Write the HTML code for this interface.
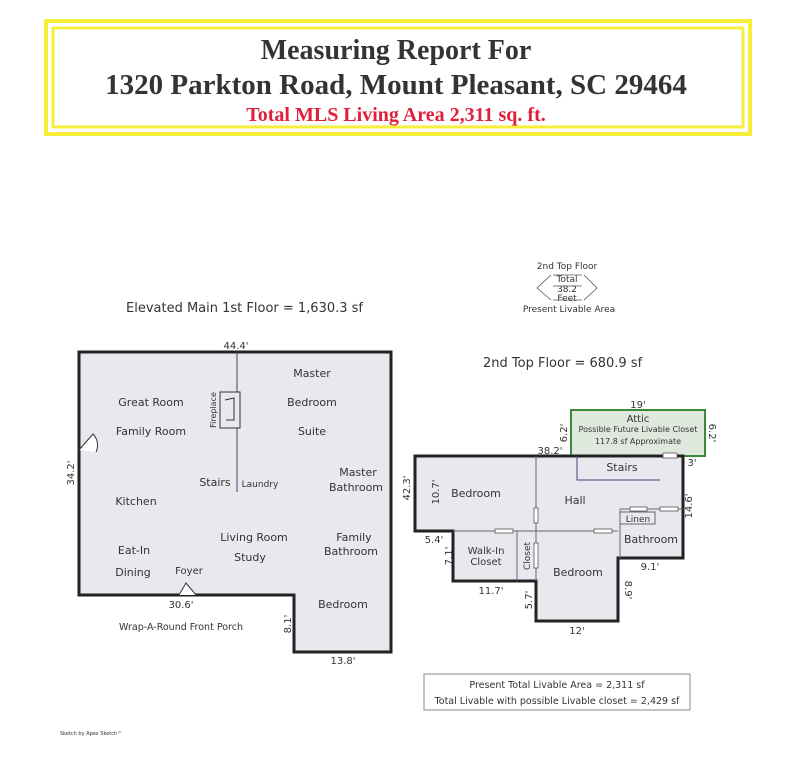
<!DOCTYPE html>
<html><head><meta charset="utf-8"><style>
html,body{margin:0;padding:0;background:#fff;}
svg{display:block}
</style></head><body>
<svg width="785" height="758" viewBox="0 0 785 758" xmlns="http://www.w3.org/2000/svg" font-family="'DejaVu Sans','Liberation Sans',sans-serif">
<!-- header -->
<rect x="46" y="21" width="704" height="113" fill="none" stroke="#f5ef3a" stroke-width="4"/>
<rect x="53" y="28" width="690" height="99" fill="none" stroke="#f5ef3a" stroke-width="3"/>
<g font-family="'Liberation Serif',serif" font-weight="bold" text-anchor="middle">
<text x="396" y="59" font-size="28" fill="#333">Measuring Report For</text>
<text x="396" y="94" font-size="29" fill="#333">1320 Parkton Road, Mount Pleasant, SC 29464</text>
<text x="396" y="121" font-size="20" fill="#e0203a">Total MLS Living Area 2,311 sq. ft.</text>
</g>

<!-- legend -->
<g font-size="9" fill="#333" text-anchor="middle">
<text x="567" y="269">2nd Top Floor</text>
<text x="567" y="282">Total</text>
<text x="567" y="292">38.2</text>
<text x="567" y="301">Feet</text>
<text x="569" y="312">Present Livable Area</text>
</g>
<path d="M551 275 L537 288 L551 300 M584 275 L597 288 L584 300 M553 275 H582 M553 300 H582 M553 286 H582" fill="none" stroke="#555" stroke-width="0.8"/>

<text x="126" y="312" font-size="13" fill="#333">Elevated Main 1st Floor = 1,630.3 sf</text>
<text x="483" y="367" font-size="13" fill="#333">2nd Top Floor = 680.9 sf</text>

<!-- main floor -->
<path d="M79 352 H391 V652 H294 V595 H79 Z" fill="#e8e8ee" stroke="#222" stroke-width="3"/>
<line x1="237" y1="352" x2="237" y2="492" stroke="#446" stroke-width="1"/>
<rect x="220" y="392" width="20" height="36" fill="#e8e8ee" stroke="#333" stroke-width="1"/>
<path d="M225 400 L234 398 L234 420 L226 420" fill="none" stroke="#333" stroke-width="1"/>
<path d="M79 450 L93 434 A16 16 0 0 1 96 452" fill="#fff" stroke="#333" stroke-width="1"/>
<path d="M179 595 L186 583 L196 595" fill="#fff" stroke="#333" stroke-width="1"/>
<g font-size="11" fill="#333" text-anchor="middle">
<text x="151" y="406">Great Room</text>
<text x="151" y="435">Family Room</text>
<text x="312" y="377">Master</text>
<text x="312" y="406">Bedroom</text>
<text x="312" y="435">Suite</text>
<text x="215" y="486">Stairs</text>
<text x="260" y="487" font-size="9">Laundry</text>
<text x="358" y="476">Master</text>
<text x="356" y="491">Bathroom</text>
<text x="136" y="505">Kitchen</text>
<text x="254" y="541">Living Room</text>
<text x="250" y="561">Study</text>
<text x="354" y="541">Family</text>
<text x="351" y="555">Bathroom</text>
<text x="134" y="554">Eat-In</text>
<text x="133" y="576">Dining</text>
<text x="189" y="574" font-size="10">Foyer</text>
<text x="343" y="608">Bedroom</text>
<text x="181" y="630" font-size="9.5">Wrap-A-Round Front Porch</text>
<text x="236" y="349" font-size="10">44.4'</text>
<text x="181" y="608" font-size="10">30.6'</text>
<text x="343" y="664" font-size="10">13.8'</text>
<text x="0" y="0" font-size="10" transform="translate(74 473) rotate(-90)">34.2'</text>
<text x="0" y="0" font-size="10" transform="translate(291 624) rotate(-90)">8.1'</text>
<text x="0" y="0" font-size="8" transform="translate(216 410) rotate(-90)">Fireplace</text>
</g>

<!-- attic -->
<rect x="571" y="410" width="134" height="46" fill="#dfe8dc" stroke="#3a8a3a" stroke-width="2"/>
<g font-size="10" fill="#333" text-anchor="middle">
<text x="638" y="422">Attic</text>
<text x="638" y="432" font-size="8">Possible Future Livable Closet</text>
<text x="638" y="444" font-size="8">117.8 sf Approximate</text>
<text x="638" y="408" font-size="10">19'</text>
</g>

<!-- second floor -->
<path d="M415 456 H683 V558 H618 V621 H536 V581 H453 V531 H415 Z" fill="#e8e8ee" stroke="#222" stroke-width="3"/>
<g stroke="#667" stroke-width="1" fill="none">
<line x1="536" y1="456" x2="536" y2="581"/>
<line x1="453" y1="531" x2="618" y2="531"/>
<line x1="517" y1="531" x2="517" y2="581"/>
<line x1="620" y1="509" x2="683" y2="509"/>
<line x1="620" y1="509" x2="620" y2="558"/>
<rect x="620" y="512" width="35" height="12"/>
<path d="M577 456 V480 H660" stroke="#447"/>
</g>
<g fill="#fff" stroke="#555" stroke-width="0.8">
<rect x="663" y="453" width="14" height="5"/>
<rect x="534" y="508" width="4" height="15"/>
<rect x="534" y="543" width="4" height="25"/>
<rect x="495" y="529" width="18" height="4"/>
<rect x="594" y="529" width="18" height="4"/>
<rect x="630" y="507" width="17" height="4"/>
<rect x="660" y="507" width="18" height="4"/>
</g>
<g font-size="11" fill="#333" text-anchor="middle">
<text x="622" y="471">Stairs</text>
<text x="476" y="497">Bedroom</text>
<text x="575" y="504">Hall</text>
<text x="638" y="522" font-size="9">Linen</text>
<text x="651" y="543">Bathroom</text>
<text x="486" y="554" font-size="10">Walk-In</text>
<text x="486" y="565" font-size="10">Closet</text>
<text x="578" y="576">Bedroom</text>
<text x="0" y="0" font-size="9" transform="translate(530 556) rotate(-90)">Closet</text>
<text x="550" y="454" font-size="10">38.2'</text>
<text x="434" y="543" font-size="10">5.4'</text>
<text x="491" y="594" font-size="10">11.7'</text>
<text x="650" y="570" font-size="10">9.1'</text>
<text x="577" y="634" font-size="10">12'</text>
<text x="692" y="466" font-size="10">3'</text>
<text x="0" y="0" font-size="10" transform="translate(410 488) rotate(-90)">42.3'</text>
<text x="0" y="0" font-size="10" transform="translate(439 492) rotate(-90)">10.7'</text>
<text x="0" y="0" font-size="10" transform="translate(452 556) rotate(-90)">7.1'</text>
<text x="0" y="0" font-size="10" transform="translate(532 600) rotate(-90)">5.7'</text>
<text x="0" y="0" font-size="10" transform="translate(625 590) rotate(90)">8.9'</text>
<text x="0" y="0" font-size="10" transform="translate(692 506) rotate(-90)">14.6'</text>
<text x="0" y="0" font-size="10" transform="translate(567 433) rotate(-90)">6.2'</text>
<text x="0" y="0" font-size="10" transform="translate(709 433) rotate(90)">6.2'</text>
</g>

<!-- summary -->
<rect x="424" y="674" width="266" height="36" fill="#fff" stroke="#888" stroke-width="1"/>
<g font-size="9.5" fill="#333" text-anchor="middle">
<text x="557" y="688">Present Total Livable Area = 2,311 sf</text>
<text x="557" y="704">Total Livable with possible Livable closet = 2,429 sf</text>
</g>
<text x="60" y="735" font-size="5" fill="#333">Sketch by Apex Sketch™</text>
</svg>
</body></html>
